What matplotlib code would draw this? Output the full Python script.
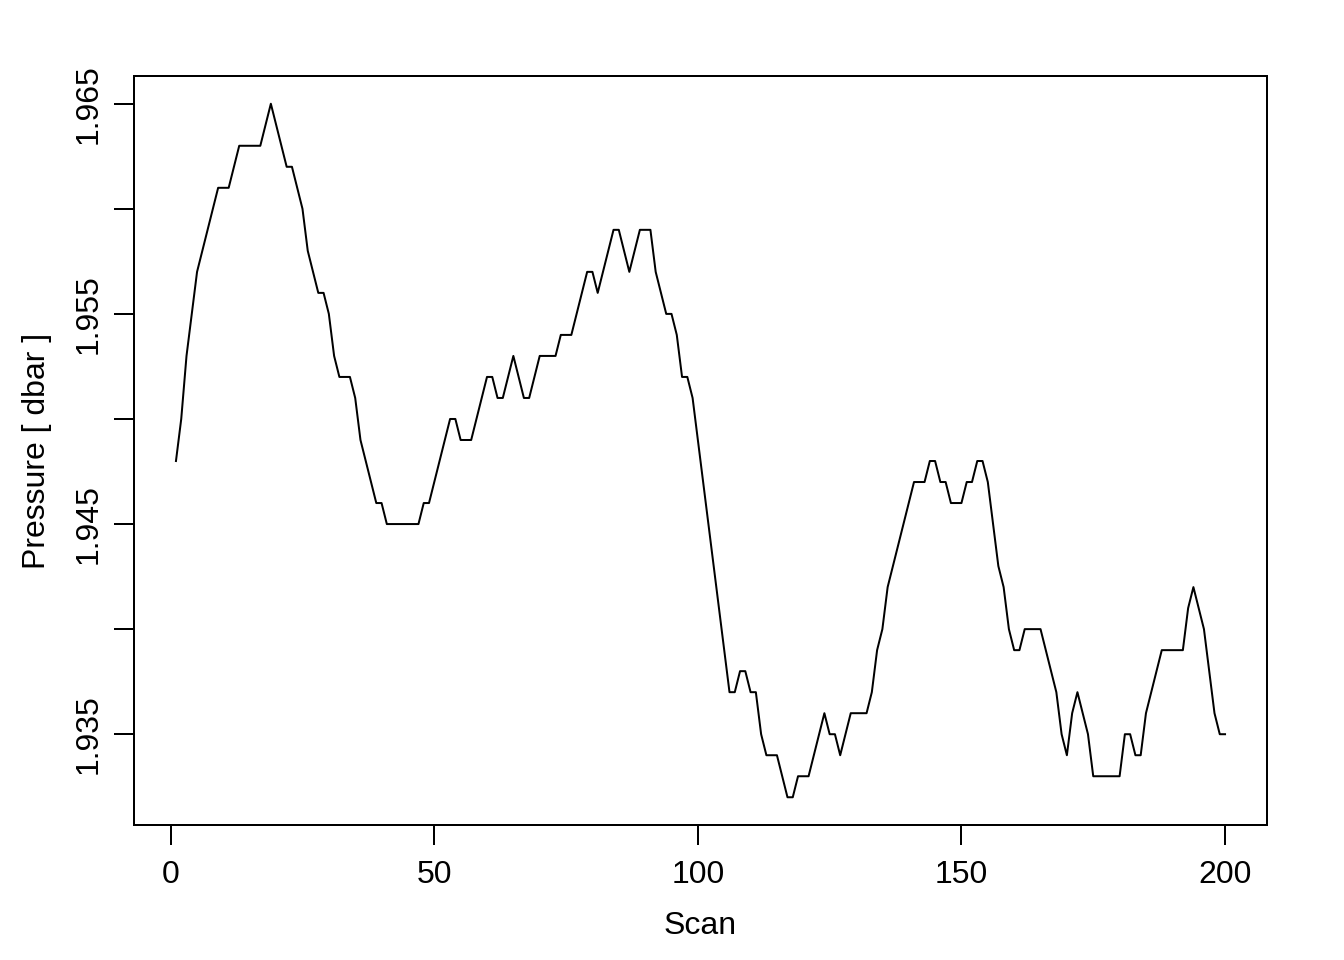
import numpy as np
import matplotlib
matplotlib.use("Agg")
import matplotlib.pyplot as plt

plt.rcParams['font.family'] = ['Liberation Sans', 'DejaVu Sans']

# pressure per scan
pressure = [
    1.948, 1.950, 1.953, 1.955, 1.957, 1.958, 1.959, 1.960, 1.961, 1.961,
    1.961, 1.962, 1.963, 1.963, 1.963, 1.963, 1.963, 1.964, 1.965, 1.964,
    1.963, 1.962, 1.962, 1.961, 1.960, 1.958, 1.957, 1.956, 1.956, 1.955,
    1.953, 1.952, 1.952, 1.952, 1.951, 1.949, 1.948, 1.947, 1.946, 1.946,
    1.945, 1.945, 1.945, 1.945, 1.945, 1.945, 1.945, 1.946, 1.946, 1.947,
    1.948, 1.949, 1.950, 1.950, 1.949, 1.949, 1.949, 1.950, 1.951, 1.952,
    1.952, 1.951, 1.951, 1.952, 1.953, 1.952, 1.951, 1.951, 1.952, 1.953,
    1.953, 1.953, 1.953, 1.954, 1.954, 1.954, 1.955, 1.956, 1.957, 1.957,
    1.956, 1.957, 1.958, 1.959, 1.959, 1.958, 1.957, 1.958, 1.959, 1.959,
    1.959, 1.957, 1.956, 1.955, 1.955, 1.954, 1.952, 1.952, 1.951, 1.949,
    1.947, 1.945, 1.943, 1.941, 1.939, 1.937, 1.937, 1.938, 1.938, 1.937,
    1.937, 1.935, 1.934, 1.934, 1.934, 1.933, 1.932, 1.932, 1.933, 1.933,
    1.933, 1.934, 1.935, 1.936, 1.935, 1.935, 1.934, 1.935, 1.936, 1.936,
    1.936, 1.936, 1.937, 1.939, 1.940, 1.942, 1.943, 1.944, 1.945, 1.946,
    1.947, 1.947, 1.947, 1.948, 1.948, 1.947, 1.947, 1.946, 1.946, 1.946,
    1.947, 1.947, 1.948, 1.948, 1.947, 1.945, 1.943, 1.942, 1.940, 1.939,
    1.939, 1.940, 1.940, 1.940, 1.940, 1.939, 1.938, 1.937, 1.935, 1.934,
    1.936, 1.937, 1.936, 1.935, 1.933, 1.933, 1.933, 1.933, 1.933, 1.933,
    1.935, 1.935, 1.934, 1.934, 1.936, 1.937, 1.938, 1.939, 1.939, 1.939,
    1.939, 1.939, 1.941, 1.942, 1.941, 1.940, 1.938, 1.936, 1.935, 1.935,
]
scan = np.arange(1, len(pressure) + 1)

x_ticks = [0, 50, 100, 150, 200]
y_ticks = [1.935, 1.940, 1.945, 1.950, 1.955, 1.960, 1.965]
y_labels = ['1.935', '', '1.945', '', '1.955', '', '1.965']

fig = plt.figure(figsize=(7, 5), dpi=192)
ax = fig.add_axes([134 / 1344, 1 - 825 / 960, (1267 - 134) / 1344, (825 - 76) / 960])

ax.plot(scan, pressure, color='black', lw=0.75)

# R style 4% padding
xr = scan.max() - scan.min()
yr = max(pressure) - min(pressure)
ax.set_xlim(scan.min() - 0.04 * xr, scan.max() + 0.04 * xr)
ax.set_ylim(min(pressure) - 0.04 * yr, max(pressure) + 0.04 * yr)

ax.set_xticks(x_ticks)
ax.set_xticklabels([str(v) for v in x_ticks])
ax.set_yticks(y_ticks)
ax.set_yticklabels(y_labels, rotation=90, va='center')
ax.tick_params(direction='out', length=7.5, width=0.75, labelsize=12, pad=5.8)
ax.tick_params(axis='y', pad=4)

for s in ax.spines.values():
    s.set_linewidth(0.75)

ax.set_xlabel('Scan', fontsize=12, labelpad=7.6)
ax.set_ylabel('Pressure [ dbar ]', fontsize=12, labelpad=8)

fig.savefig('out.png', dpi=192)
